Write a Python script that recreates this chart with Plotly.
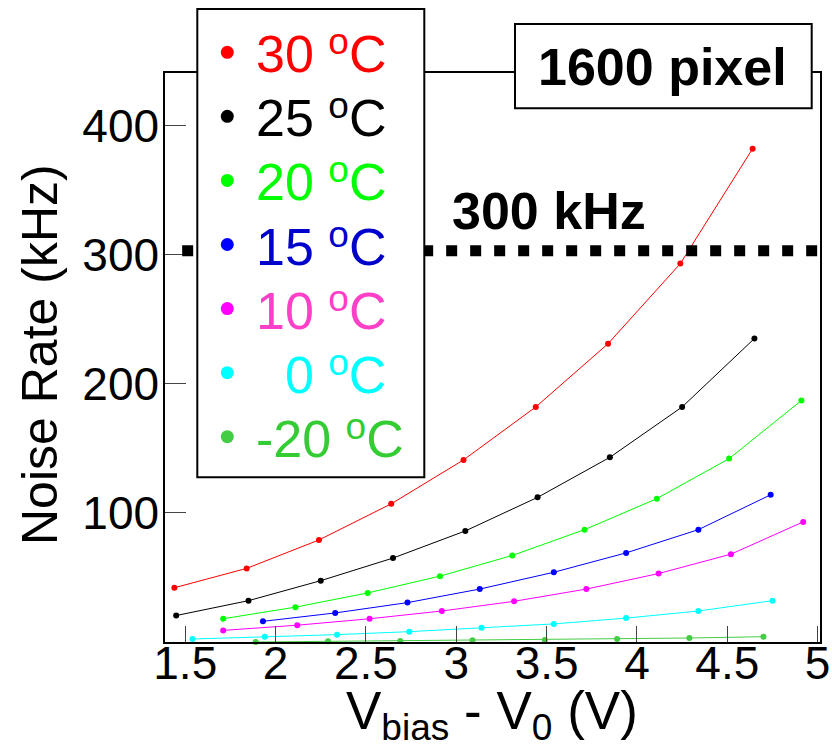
import plotly.graph_objects as go

# ---------------- data ----------------
v_30 = [1.44, 1.84, 2.24, 2.64, 3.04, 3.44, 3.84, 4.24, 4.64]
r_30 = [42, 57, 79, 107, 141, 182, 231, 293, 382]
v_25 = [1.45, 1.85, 2.25, 2.65, 3.05, 3.45, 3.85, 4.25, 4.65]
r_25 = [20.5, 32, 47.5, 65, 86, 112, 143, 182, 235]
v_20 = [1.71, 2.11, 2.51, 2.91, 3.31, 3.71, 4.11, 4.51, 4.91]
r_20 = [18, 27, 38, 51, 67, 87, 111, 142, 187]
v_15 = [1.93, 2.33, 2.73, 3.13, 3.54, 3.94, 4.34, 4.74]
r_15 = [16, 22.5, 30.5, 41, 54, 69, 87, 114]
v_10 = [1.71, 2.12, 2.52, 2.92, 3.32, 3.72, 4.12, 4.52, 4.92]
r_10 = [9, 13, 18, 24, 31.5, 41, 53, 68, 93]
v_0 = [1.54, 1.94, 2.34, 2.74, 3.14, 3.54, 3.94, 4.34, 4.75]
r_0 = [2.3, 4, 5.7, 8, 11, 14, 18.5, 24, 32]
v_m20 = [1.89, 2.29, 2.69, 3.09, 3.49, 3.89, 4.29, 4.70]
r_m20 = [0, 0.5, 0.8, 1.3, 1.6, 2.3, 3.1, 4.1]

series_names = ["30", "25", "20", "15", "10", "\u00a0\u00a00", "-20"]
x_tick_vals = [1.5, 2, 2.5, 3, 3.5, 4, 4.5, 5]
x_tick_text = ["1.5", "2", "2.5", "3", "3.5", "4", "4.5", "5"]
y_tick_vals = [100, 200, 300, 400]
y_tick_text = ["100", "200", "300", "400"]
threshold_label = "300 kHz"
threshold_y = 303
box_label = "1600 pixel"

xs = [v_30, v_25, v_20, v_15, v_10, v_0, v_m20]
ys = [r_30, r_25, r_20, r_15, r_10, r_0, r_m20]
marker_colors = ["#ff0000", "#000000", "#00ff00", "#0000ff", "#ff00ff", "#00ffff", "#44cc44"]
text_colors = ["#ff0000", "#000000", "#00ff00", "#0000cc", "#ff3fc8", "#00ffff", "#33cc33"]

# ---------------- geometry ----------------
W, H = 832, 749
ML, MR, MT, MB = 165, 12, 73, 107
PW, PH = W - ML - MR, H - MT - MB


def px(xp):  # page x -> paper
    return (xp - ML) / PW


def py(yp):  # page y -> paper
    return (H - MB - yp) / PH


fig = go.Figure()
for x, y, c in zip(xs, ys, marker_colors):
    fig.add_trace(go.Scatter(x=x, y=y, mode="lines+markers",
                             line=dict(color=c, width=1),
                             marker=dict(color=c, size=6),
                             cliponaxis=False, showlegend=False))

shapes = []
# dotted threshold line
shapes.append(dict(type="line", xref="x", yref="y", x0=1.483, x1=5.013,
                   y0=threshold_y, y1=threshold_y, layer="above",
                   line=dict(color="black", width=11, dash="11px,13px")))
# legend box
shapes.append(dict(type="rect", xref="paper", yref="paper",
                   x0=px(197.3), x1=px(424.3), y0=py(477.3), y1=py(9),
                   fillcolor="white", line=dict(color="black", width=2), layer="above"))
# label box
shapes.append(dict(type="rect", xref="paper", yref="paper",
                   x0=px(515), x1=px(811.7), y0=py(108.3), y1=py(24),
                   fillcolor="white", line=dict(color="black", width=2), layer="above"))

annotations = []
entry_y0, entry_dy = 52.3, 64.07
sup_o = '<span style="baseline-shift:18px;font-size:37px">o</span>'
for i, (name, mc, tc) in enumerate(zip(series_names, marker_colors, text_colors)):
    yc = entry_y0 + i * entry_dy
    shapes.append(dict(type="circle", xref="paper", yref="paper",
                       xsizemode="pixel", ysizemode="pixel",
                       xanchor=px(227.3), yanchor=py(yc),
                       x0=-6.5, x1=6.5, y0=-6.5, y1=6.5,
                       fillcolor=mc, line=dict(width=0), layer="above"))
    annotations.append(dict(xref="paper", yref="paper", x=px(254), y=py(yc),
                            xanchor="left", yanchor="middle", showarrow=False,
                            text=name + " " + sup_o + "C",
                            font=dict(family="Liberation Sans", size=52, color=tc)))

annotations.append(dict(xref="paper", yref="paper", x=px(548.5), y=py(211),
                        xanchor="center", yanchor="middle", showarrow=False,
                        text="<b>" + threshold_label + "</b>",
                        font=dict(family="Liberation Sans", size=52, color="black")))
annotations.append(dict(xref="paper", yref="paper", x=px(662.8), y=py(67),
                        xanchor="center", yanchor="middle", showarrow=False,
                        text="<b>" + box_label + "</b>",
                        font=dict(family="Liberation Sans", size=52, color="black")))
# axis titles
annotations.append(dict(xref="paper", yref="paper", x=px(40), y=py(355),
                        xanchor="center", yanchor="middle", showarrow=False,
                        textangle=-90, text="Noise Rate (kHz)",
                        font=dict(family="Liberation Sans", size=50, color="black")))
annotations.append(dict(xref="paper", yref="paper", x=px(491.5), y=py(714),
                        xanchor="center", yanchor="middle", showarrow=False,
                        text="V<sub>bias</sub> - V<sub>0</sub> (V)",
                        font=dict(family="Liberation Sans", size=53, color="black")))

axis_common = dict(showgrid=False, zeroline=False, showline=True, mirror=True,
                   automargin=False,
                   linecolor="black", linewidth=1.5, ticks="inside", tickwidth=1,
                   tickcolor="#444444",
                   tickfont=dict(family="Liberation Sans", size=46, color="black"))

fig.update_layout(
    width=W, height=H, autosize=False,
    margin=dict(l=ML, r=MR, t=MT, b=MB, pad=0, autoexpand=False),
    paper_bgcolor="white", plot_bgcolor="white",
    xaxis=dict(range=[1.388, 5.013], tickvals=x_tick_vals, ticktext=x_tick_text,
               ticklen=16, ticklabelstandoff=-20, **axis_common),
    yaxis=dict(range=[0, 440.6], tickvals=y_tick_vals, ticktext=y_tick_text,
               ticklen=21, ticklabelstandoff=-5, **axis_common),
    shapes=shapes, annotations=annotations, showlegend=False,
)

fig.write_html("out.html",
               config={"displayModeBar": False, "responsive": False},
               post_script="document.body.style.margin='0';"
                           "document.body.style.overflow='hidden';")
